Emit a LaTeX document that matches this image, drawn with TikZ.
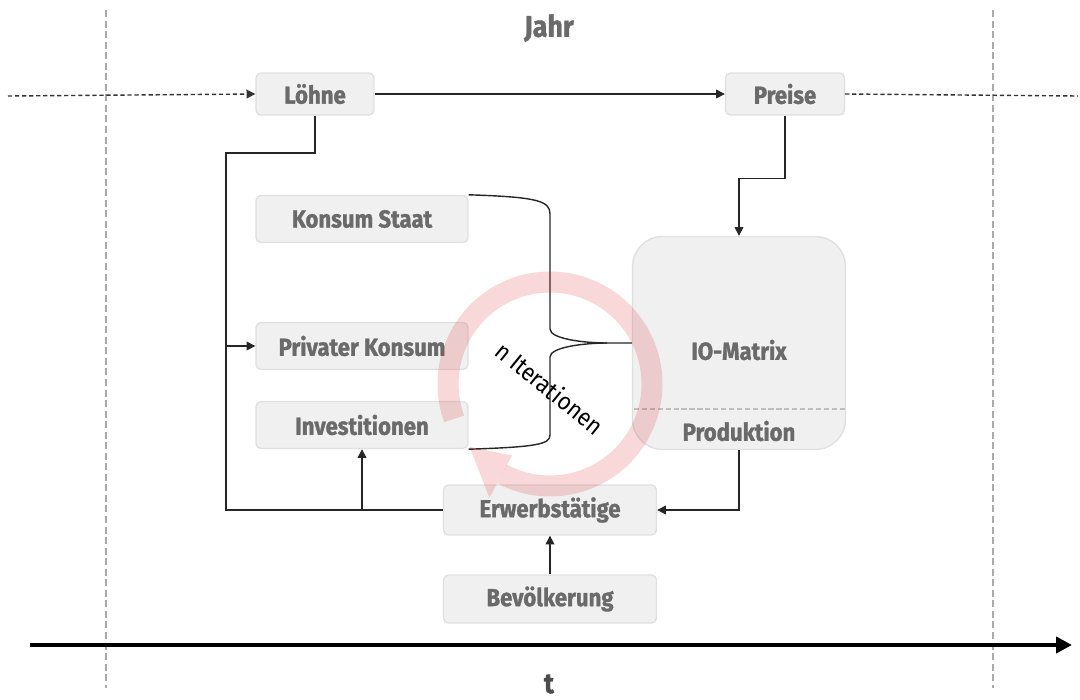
\documentclass[tikz,border=0pt]{standalone}
\usepackage{fontspec}
\setmainfont{Fira Sans}[FakeStretch=0.9, BoldFeatures={FakeBold=1.3}]
\usetikzlibrary{arrows.meta}
\definecolor{boxfill}{HTML}{F0F0F0}
\definecolor{boxline}{HTML}{E0E0E0}
\definecolor{boxtext}{HTML}{6A6A6A}
\definecolor{gridline}{HTML}{AAAAAA}
\definecolor{ringred}{HTML}{D81818}
\tikzset{
    every node/.style={font=\bfseries\fontsize{14}{16}\selectfont, text=boxtext}
}
\tikzset{
    box/.style={rectangle, rounded corners=2.8pt, fill=boxfill, draw=boxline,
    	line width=0.8pt, minimum width=4.24cm, minimum height=0.94cm}
}
\tikzset{
    conn/.style={draw=black!85, line width=0.8pt},
    tip/.style={-{Triangle[length=5pt,width=5pt]}},
    outer/.style={draw=black!80, line width=0.8pt, dash pattern=on 2.4pt off 1.6pt},
    grid/.style={draw=gridline, line width=0.6pt, dash pattern=on 4pt off 2pt},
    ring/.style={ringred, draw opacity=0.17, fill opacity=0.17}
}

\begin{document}
\begin{tikzpicture}[x=0.02cm, y=-0.02cm]
  \useasboundingbox (0,0) rectangle (1080,700);

  \coordinate (g1t) at (106,10);
  \coordinate (g1b) at (106,688);
  \coordinate (g2t) at (993,10);
  \coordinate (g2b) at (993,688);
  \draw[grid] (g1t) -- (g1b);
  \draw[grid] (g2t) -- (g2b);

  \node (jahr) [font=\bfseries\fontsize{17}{19}\selectfont] at (549,28) {Jahr};
  \node (t) [text=black!70, font=\bfseries\fontsize{16}{18}\selectfont] at (549,684) {t};

  \node (lo) [box, minimum width=2.36cm, minimum height=0.84cm] at (315,94) {Löhne};
  \node (pr) [box, minimum width=2.38cm, minimum height=0.84cm] at (785,94) {Preise};
  \node (ks) [box] at (362,219) {Konsum Staat};
  \node (pk) [box] at (362,346) {Privater Konsum};
  \node (iv) [box] at (362,425) {Investitionen};
  \node (io) [box, minimum width=4.26cm, minimum height=4.26cm, rounded corners=0.6cm] at (739,343) {};
  \node (iot) at (739,350) {IO-Matrix};
  \node (prod) at (739,431) {Produktion};
  \node (ew) [box, minimum width=4.26cm, minimum height=1cm] at (550,510) {Erwerbstätige};
  \node (bv) [box, minimum width=4.26cm, minimum height=0.96cm] at (550,599) {Bevölkerung};

  \coordinate (sl) at (634,409);
  \coordinate (sr) at (845,409);
  \draw[draw=black!25, line width=0.7pt, dash pattern=on 3pt off 1.5pt] (sl) -- (sr);

  \coordinate (dl) at (8,96);
  \coordinate (dr) at (1078,96);
  \coordinate (lk) at (226,153);
  \coordinate (lb) at (226,510);
  \coordinate (tip) at (607,343);

  \draw[outer, tip] (dl) -- (lo.west);
  \draw[outer] (pr.east) -- (dr);
  \draw[conn, tip] (lo.east) -- (pr.west);
  \draw[conn, tip] (pr.south) -- ++(0,63) -| (io.north);
  \draw[conn, tip] (lo.south) |- (lk) |- (pk.west);
  \draw[conn] (ew.west) -- (lb) -- (lk |- pk.west);
  \draw[conn, tip] (ew.west) -| (iv.south);
  \draw[conn, tip] (io.south) |- (ew.east);
  \draw[conn, tip] (bv.north) -- (ew.south);

  \draw[conn] (ks.north east) .. controls (538,197) and (550,201) .. (550,214)
    -- (550,329) .. controls (550,339) and (585,343) .. (tip) -- (io.west);
  \draw[conn] (tip) .. controls (585,343) and (550,347) .. (550,357)
    -- (550,435) .. controls (550,444) and (538,447) .. (iv.south east);

  % Iterationspfeil
  \begin{scope}[shift={(550,384)}, x=1cm, y=1cm]
    \draw[ring, line width=0.42cm] (200:2.04) arc[start angle=200, end angle=-118, radius=2.04];
    \fill[ring] (218:2.04) -- (242:1.62) -- (242:2.58) -- cycle;
  \end{scope}

  \node (it) [rotate=-39, text=black, font=\fontsize{14}{16}\selectfont] at (550,388) {n Iterationen};

  \coordinate (a0) at (30,645);
  \coordinate (a1) at (1072,645);
  \draw[line width=2.8pt, -{Triangle[length=9pt,width=9pt]}] (a0) -- (a1);
\end{tikzpicture}
\end{document}
